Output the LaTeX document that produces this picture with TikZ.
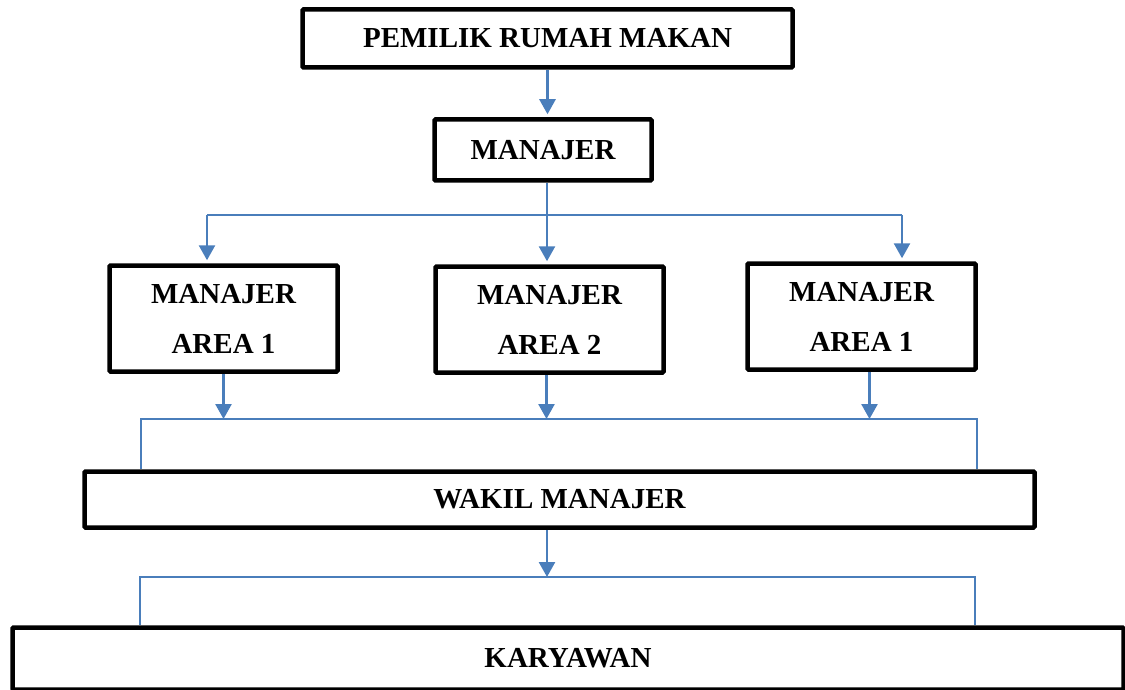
\documentclass[tikz,border=0pt]{standalone}
\usepackage{fontspec}
\setmainfont{Liberation Serif}
\usepackage{tikz}
\usetikzlibrary{positioning}
\usetikzlibrary{arrows.meta,calc}
\definecolor{wordblue}{RGB}{74,126,187}

\tikzset{
	jabatan/.style={draw=black, line width=4.5pt, rounded corners=1pt, inner sep=0pt,
		align=center, font=\bfseries\fontsize{29}{50}\selectfont},
	panah/.style={draw=wordblue, line width=2.6pt, -{Triangle[width=16pt,length=15pt]}},
	garis/.style={draw=wordblue, line width=2pt},
}

\begin{document}
\begin{tikzpicture}[x=1pt,y=-1pt]
	
	% page size, in pixels of the reference (y runs downward)
	\useasboundingbox (0,0) rectangle (1125,690);
	
	% the boxes, top to bottom
	\node[jabatan, minimum width=490pt, minimum height=58pt] (pemilik) at (547.5,38.5) {PEMILIK RUMAH MAKAN};
	\node[jabatan, minimum width=217pt, minimum height=61pt] (manajer) at (543,150) {MANAJER};
	
	\node[jabatan, minimum width=228pt, minimum height=106pt] (area1) at (223.5,318.5) {MANAJER\\AREA 1};
	\node[jabatan, minimum width=228pt, minimum height=106pt] (area2) at (549.5,319.5) {MANAJER\\AREA 2};
	\node[jabatan, minimum width=228pt, minimum height=106pt] (area3) at (861.5,316.5) {MANAJER\\AREA 1};
	
	\node[jabatan, minimum width=950pt, minimum height=56pt] (wakil) at (559.5,499.5) {WAKIL MANAJER};
	\node[jabatan, minimum width=1111pt, minimum height=62pt] (karyawan) at (568,658.5) {KARYAWAN};
	
	% free ends of the branching lines
	\coordinate (busA) at (547,215);
	\coordinate (busAL) at (207,215);
	\coordinate (busAR) at (902,215);
	\coordinate (busBL) at (141,419);
	\coordinate (busBR) at (977,419);
	\coordinate (busCL) at (140,577);
	\coordinate (busCR) at (975,577);
	
	%%%%%%%%%%%%%%%%%%%%%%%%%%%%%%%%%%%%%%%%%%%%%%%%%%%%%%%%%%%%%%
	% owner -> manager
	\draw[panah, shorten >=3pt] (pemilik.south) -- (pemilik.south |- manajer.north);
	
	% manager -> the three area managers
	\draw[garis] (manajer.south -| busA) -- (busA);
	\draw[garis] (busAL) -- (busAR);
	\draw[panah, shorten >=3pt] (busAL) -- (busAL |- area1.north);
	\draw[panah, shorten >=3pt] (busA) -- (busA |- area2.north);
	\draw[panah, shorten >=3pt] (busAR) -- (busAR |- area3.north);
	
	% area managers -> deputy
	\draw[panah] (area1.south) -- (area1.south |- busBL);
	\draw[panah] ([xshift=-3pt]area2.south) -- ([xshift=-3pt]area2.south |- busBL);
	\draw[panah] ([xshift=8pt]area3.south) -- ([xshift=8pt]area3.south |- busBL);
	\draw[garis] (busBL |- wakil.north) -- (busBL) -- (busBR) -- (busBR |- wakil.north);
	
	% deputy -> staff
	\draw[panah] (wakil.south -| busA) -- (busA |- busCL);
	\draw[garis] (busCL |- karyawan.north) -- (busCL) -- (busCR) -- (busCR |- karyawan.north);
	
\end{tikzpicture}
\end{document}
